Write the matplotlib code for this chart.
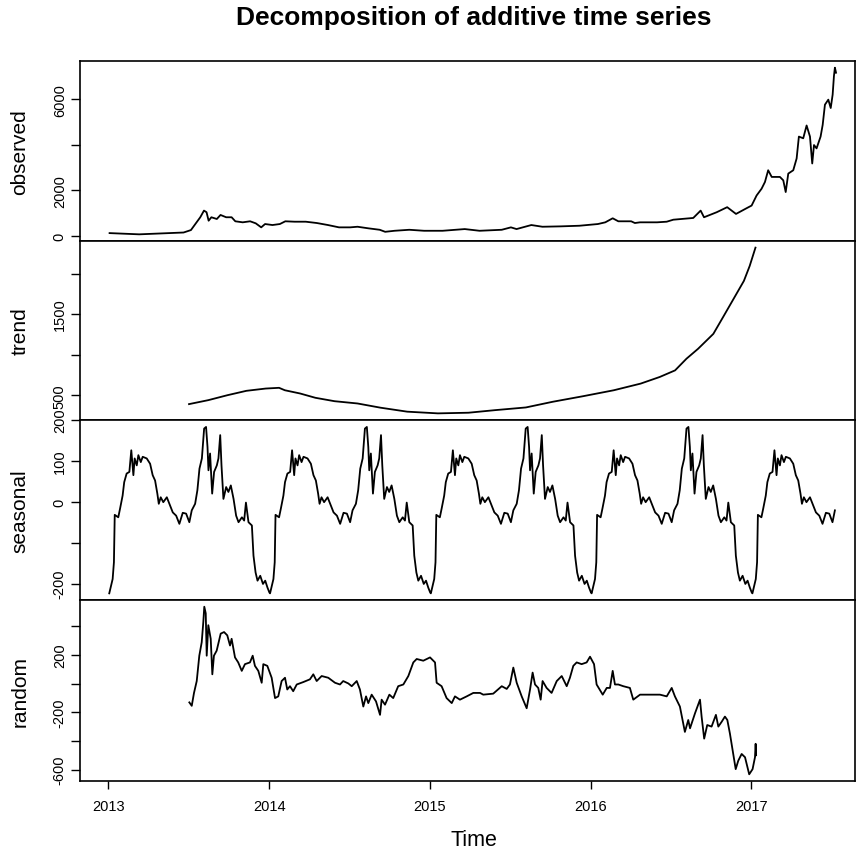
import numpy as np
import matplotlib
matplotlib.use('Agg')
import matplotlib.pyplot as plt

plt.rcParams['font.family'] = ['Liberation Sans', 'DejaVu Sans']

# observed series (time in years, value)
obs_t = [2013.008, 2013.192, 2013.468, 2013.514, 2013.549, 2013.572, 2013.595, 2013.611, 2013.624, 2013.641,
         2013.675, 2013.698, 2013.733, 2013.767, 2013.790, 2013.836, 2013.882, 2013.917, 2013.951, 2013.975,
         2014.021, 2014.067, 2014.101, 2014.159, 2014.228, 2014.297, 2014.366, 2014.435, 2014.504, 2014.550,
         2014.619, 2014.688, 2014.722, 2014.780, 2014.872, 2014.964, 2015.079, 2015.217, 2015.309, 2015.447,
         2015.504, 2015.539, 2015.631, 2015.700, 2015.815, 2015.930, 2016.045, 2016.091, 2016.137, 2016.172,
         2016.252, 2016.275, 2016.307, 2016.413, 2016.473, 2016.514, 2016.638, 2016.684, 2016.705, 2016.784,
         2016.849, 2016.904, 2016.970, 2017.001, 2017.032, 2017.063, 2017.084, 2017.104, 2017.126, 2017.177,
         2017.198, 2017.213, 2017.229, 2017.260, 2017.281, 2017.295, 2017.322, 2017.343, 2017.364, 2017.378,
         2017.389, 2017.405, 2017.430, 2017.443, 2017.457, 2017.478, 2017.493, 2017.505, 2017.513, 2017.519,
         2017.526]
obs_v = [124, 70, 150, 257, 597, 819, 1111, 1040, 668, 819,
         743, 920, 819, 819, 642, 597, 642, 553, 376, 522,
         478, 522, 642, 624, 624, 566, 478, 376, 376, 403,
         332, 270, 181, 226, 270, 226, 226, 301, 226, 270,
         376, 301, 478, 403, 420, 447, 522, 597, 774, 642,
         642, 566, 597, 597, 624, 712, 788, 1111, 819, 1040,
         1261, 965, 1217, 1332, 1774, 2071, 2367, 2881, 2588, 2588,
         2438, 1925, 2735, 2881, 3398, 4358, 4283, 4845, 4358, 3177,
         3987, 3841, 4358, 4872, 5757, 5978, 5611, 6199, 7013, 7381,
         7159]

# trend component
trend_t = [2013.502, 2013.622, 2013.741, 2013.859, 2013.979, 2014.062, 2014.098, 2014.193, 2014.288, 2014.407,
           2014.550, 2014.693, 2014.859, 2015.050, 2015.240, 2015.407, 2015.597, 2015.764, 2015.954, 2016.144,
           2016.311, 2016.430, 2016.525, 2016.596, 2016.668, 2016.763, 2016.823, 2016.882, 2016.953, 2016.989,
           2017.025]
trend_v = [390, 439, 500, 554, 582, 591, 561, 521, 468, 426,
           398, 346, 297, 276, 284, 316, 349, 419, 488, 561,
           643, 725, 806, 950, 1072, 1256, 1461, 1664, 1909, 2093,
           2319]

# seasonal component: one yearly cycle (phase in years from series start)
season_start = 2013.006
season_phase = [0.000, 0.021, 0.029, 0.034, 0.056, 0.067, 0.083, 0.093, 0.108, 0.125,
                0.137, 0.150, 0.158, 0.171, 0.181, 0.196, 0.208, 0.233, 0.254, 0.270,
                0.285, 0.299, 0.308, 0.320, 0.336, 0.358, 0.378, 0.395, 0.416, 0.436,
                0.457, 0.478, 0.498, 0.513, 0.534, 0.548, 0.561, 0.576, 0.590, 0.602,
                0.611, 0.617, 0.627, 0.640, 0.652, 0.669, 0.679, 0.690, 0.698, 0.710,
                0.727, 0.741, 0.756, 0.773, 0.789, 0.804, 0.825, 0.839, 0.850, 0.866,
                0.887, 0.897, 0.910, 0.922, 0.939, 0.956, 0.970, 0.984, 0.996]
season_vals = [-224, -189, -148, -32, -38, -17, 15, 48, 69, 73,
               126, 65, 106, 89, 114, 97, 110, 106, 93, 65,
               52, 20, -5, 11, -1, 11, -9, -26, -34, -54,
               -27, -29, -50, -21, -5, 28, 81, 106, 179, 183,
               134, 77, 118, 20, 73, 89, 106, 163, 89, 7,
               36, 24, 40, 7, -34, -50, -38, -46, -2, -50,
               -58, -132, -173, -193, -181, -201, -193, -210, -222]
series_end = 2017.526

# random (remainder) component
rand_t = [2013.504, 2013.519, 2013.533, 2013.550, 2013.566, 2013.581, 2013.591, 2013.597, 2013.606, 2013.612,
          2013.622, 2013.637, 2013.647, 2013.657, 2013.674, 2013.699, 2013.720, 2013.740, 2013.757, 2013.767,
          2013.788, 2013.808, 2013.830, 2013.850, 2013.881, 2013.898, 2013.912, 2013.933, 2013.954, 2013.964,
          2013.989, 2014.016, 2014.037, 2014.057, 2014.078, 2014.099, 2014.113, 2014.130, 2014.150, 2014.172,
          2014.213, 2014.254, 2014.275, 2014.296, 2014.327, 2014.368, 2014.410, 2014.441, 2014.461, 2014.493,
          2014.514, 2014.545, 2014.565, 2014.586, 2014.603, 2014.617, 2014.638, 2014.665, 2014.690, 2014.700,
          2014.721, 2014.748, 2014.772, 2014.803, 2014.835, 2014.866, 2014.897, 2014.918, 2014.959, 2015.001,
          2015.032, 2015.042, 2015.073, 2015.104, 2015.136, 2015.156, 2015.187, 2015.229, 2015.270, 2015.312,
          2015.332, 2015.394, 2015.447, 2015.478, 2015.498, 2015.519, 2015.540, 2015.571, 2015.602, 2015.623,
          2015.639, 2015.654, 2015.674, 2015.689, 2015.701, 2015.726, 2015.757, 2015.789, 2015.820, 2015.851,
          2015.871, 2015.892, 2015.913, 2015.944, 2015.975, 2015.996, 2016.021, 2016.037, 2016.075, 2016.100,
          2016.120, 2016.137, 2016.151, 2016.172, 2016.203, 2016.244, 2016.265, 2016.307, 2016.369, 2016.431,
          2016.473, 2016.504, 2016.524, 2016.555, 2016.586, 2016.607, 2016.618, 2016.649, 2016.680, 2016.690,
          2016.706, 2016.725, 2016.752, 2016.779, 2016.794, 2016.815, 2016.835, 2016.850, 2016.866, 2016.887,
          2016.902, 2016.918, 2016.939, 2016.960, 2016.986, 2017.007, 2017.022, 2017.026, 2017.029]
rand_v = [-131, -155, -65, 18, 195, 289, 431, 537, 491, 195,
          408, 313, 65, 195, 230, 349, 360, 337, 266, 313,
          183, 148, 89, 136, 148, 195, 124, 89, 6, 136,
          124, 41, -101, -89, 18, 41, -41, -18, -53, -6,
          11, 30, 65, 18, 53, 41, 6, -6, 18, 1,
          -18, 18, -41, -160, -89, -136, -77, -124, -218, -112,
          -147, -77, -101, -18, -6, 53, 148, 172, 160, 183,
          148, 6, -18, -101, -136, -89, -112, -89, -65, -65,
          -77, -70, -18, -37, -6, 112, 6, -89, -172, -41,
          77, -6, -30, -112, 18, -30, -65, 18, 53, -18,
          41, 124, 148, 136, 148, 188, 136, -6, -77, -30,
          -30, 89, -6, -6, -18, -30, -112, -77, -77, -77,
          -89, -30, -89, -160, -337, -254, -312, -207, -112, -230,
          -384, -289, -300, -218, -300, -266, -230, -254, -348, -491,
          -597, -538, -491, -514, -633, -597, -514, -420, -500]

year_ticks = [2013, 2014, 2015, 2016, 2017]

# seasonal pattern repeats each year
n_cycles = 5
season_t = np.concatenate([season_start + k + np.array(season_phase) for k in range(n_cycles)])
season_v = np.tile(season_vals, n_cycles)
keep = season_t <= series_end
season_t, season_v = season_t[keep], season_v[keep]

panels = [
    ('observed', obs_t, obs_v, [0, 2000, 4000, 6000], ['0', '2000', '', '6000']),
    ('trend', trend_t, trend_v, [500, 1000, 1500, 2000], ['500', '', '1500', '']),
    ('seasonal', season_t, season_v, [-200, -100, 0, 100, 200], ['-200', '', '0', '100', '200']),
    ('random', rand_t, rand_v, [-600, -400, -200, 0, 200, 400], ['-600', '', '-200', '', '200', '']),
]


def r_lim(v):
    lo, hi = min(v), max(v)
    pad = 0.04 * (hi - lo)
    return lo - pad, hi + pad


W, H = 856, 854
fig = plt.figure(figsize=(W / 100, H / 100), dpi=100)
left, right = 80, 855
edges = [62, 242, 421, 601, 782]

for i, (name, t, v, ticks, labels) in enumerate(panels):
    top, bot = edges[i], edges[i + 1]
    ax = fig.add_axes([left / W, 1 - bot / H, (right - left) / W, (bot - top) / H])
    ax.plot(t, v, color='black', lw=1.3)
    ax.set_xlim(2012.824, 2017.644)
    ax.set_ylim(*r_lim(v))
    ax.set_yticks(ticks)
    ax.set_yticklabels(labels, rotation=90, va='center')
    ax.tick_params(axis='y', direction='out', length=6.5, width=1.0, labelsize=10.5, pad=3)
    for s in ax.spines.values():
        s.set_linewidth(1.2)
    if i < 3:
        ax.set_xticks([])
    else:
        ax.set_xticks(year_ticks)
        ax.set_xticklabels([str(y) for y in year_ticks])
        ax.tick_params(axis='x', direction='out', length=6, width=1.0, labelsize=10.5, pad=7)
    fig.text(20 / W, 1 - (top + bot) / 2 / H, name, rotation=90, ha='center', va='center', fontsize=15)

fig.text(474 / W, 1 - 18 / H, 'Decomposition of additive time series', ha='center', va='center',
         fontsize=19, fontweight='bold')
fig.text(474 / W, 1 - 841 / H, 'Time', ha='center', va='center', fontsize=15.5)

fig.savefig('out.png', dpi=100)
